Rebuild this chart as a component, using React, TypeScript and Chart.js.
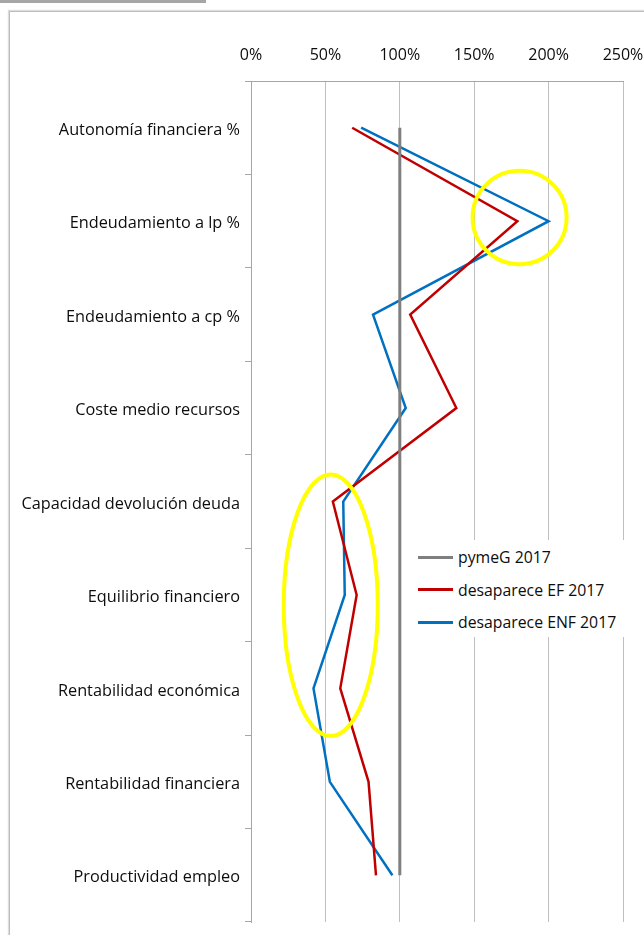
import React, { useEffect, useRef } from "react";
import { Chart, registerables } from "chart.js";

Chart.register(...registerables);

const categories = [
  "Autonomía financiera %",
  "Endeudamiento a lp %",
  "Endeudamiento a cp %",
  "Coste medio recursos",
  "Capacidad devolución deuda",
  "Equilibrio financiero",
  "Rentabilidad económica",
  "Rentabilidad financiera",
  "Productividad empleo",
];

const seriesNames = ["pymeG 2017", "desaparece EF 2017", "desaparece ENF 2017"];
const pymeG2017 = [100, 100, 100, 100, 100, 100, 100, 100, 100];
const desapareceEF2017 = [68, 179, 107, 138, 55, 71, 60, 79, 84];
const desapareceENF2017 = [74, 200, 82, 104, 62, 63, 42, 53, 95];

const xMin = 0;
const xMax = 250;
const xStep = 50;

const seriesColors = ["#7F7F7F", "#C00000", "#0070C0"];
const seriesWidths = [3, 2.5, 2.5];

// highlight ellipses in data units: x value (%), category index, radii
const highlights = [
  { x: 180.5, y: 0.96, rx: 31.6, ry: 0.5 },
  { x: 53.6, y: 5.11, rx: 31.6, ry: 1.4 },
];

const FONT = "'Open Sans', 'DejaVu Sans', sans-serif";
const TEXT = "#0d0d0d";

const highlightPlugin = {
  id: "highlightPlugin",
  afterDatasetsDraw(chart: any) {
    const xs = chart.scales.x;
    const ys = chart.scales.y;
    const ctx = chart.ctx;
    const y0 = ys.getPixelForValue(0);
    const step = ys.getPixelForValue(1) - y0;
    ctx.save();
    ctx.strokeStyle = "#FFFF00";
    ctx.lineWidth = 4;
    for (const h of highlights) {
      const cx = xs.getPixelForValue(h.x);
      const cy = y0 + h.y * step;
      const rx = xs.getPixelForValue(h.x + h.rx) - cx;
      const ry = h.ry * step;
      ctx.beginPath();
      ctx.ellipse(cx, cy, rx, ry, 0, 0, Math.PI * 2);
      ctx.stroke();
    }
    ctx.restore();
  },
};

export default function App() {
  const ref = useRef<HTMLCanvasElement>(null);

  useEffect(() => {
    if (!ref.current) return;
    const values = [pymeG2017, desapareceEF2017, desapareceENF2017];
    const chart = new Chart(ref.current, {
      type: "line",
      data: {
        labels: categories,
        datasets: values.map((v, i) => ({
          label: seriesNames[i],
          data: v,
          borderColor: seriesColors[i],
          backgroundColor: seriesColors[i],
          borderWidth: seriesWidths[i],
          pointRadius: 0,
          tension: 0,
          fill: false,
        })),
      },
      options: {
        responsive: false,
        animation: false,
        indexAxis: "y",
        layout: { padding: { top: 0, left: 0, right: 21, bottom: 13 } },
        plugins: {
          legend: { display: false },
          tooltip: { enabled: false },
        },
        scales: {
          x: {
            type: "linear",
            position: "top",
            min: xMin,
            max: xMax,
            ticks: {
              stepSize: xStep,
              callback: (v: any) => v + "%",
              padding: 16,
              color: TEXT,
              font: { family: FONT, size: 16 },
              maxRotation: 0,
            },
            grid: { color: "#BFBFBF", drawTicks: false, lineWidth: 1 },
            border: { display: true, color: "#A6A6A6" },
            afterFit: (s: any) => {
              s.height = 81;
              s.paddingLeft = 0;
              s.paddingRight = 0;
            },
          },
          y: {
            type: "category",
            offset: true,
            ticks: {
              padding: 5,
              labelOffset: 2.5,
              color: TEXT,
              font: { family: FONT, size: 16.3 },
            },
            grid: {
              offset: true,
              drawOnChartArea: false,
              drawTicks: true,
              tickLength: 6,
              color: "#A6A6A6",
            },
            border: { display: true, color: "#A6A6A6" },
            afterFit: (s: any) => {
              s.width = 251;
              s.paddingTop = 0;
              s.paddingBottom = 0;
            },
          },
        },
      } as any,
      plugins: [highlightPlugin],
    });
    return () => chart.destroy();
  }, []);

  return (
    <div
      style={{
        position: "absolute",
        left: 0,
        top: 0,
        width: 644,
        height: 935,
        overflow: "hidden",
        background: "#fff",
      }}
    >
      <div
        style={{
          position: "absolute",
          left: 0,
          top: 0,
          width: 206,
          height: 3,
          background: "#A6A6A6",
        }}
      />
      <div
        style={{
          position: "absolute",
          left: 9,
          top: 11,
          width: 700,
          height: 960,
          borderLeft: "1px solid #BDBDBD",
          borderTop: "1px solid #BDBDBD",
          boxShadow: "-1px -1px 1px #DDDDDD",
        }}
      />
      <canvas
        ref={ref}
        width={644}
        height={935}
        style={{ position: "absolute", left: 0, top: 0 }}
      />
      <div
        style={{
          position: "absolute",
          left: 415,
          top: 540,
          width: 215,
          height: 97,
          background: "#fff",
          fontFamily: FONT,
          fontSize: 15.8,
          color: TEXT,
        }}
      >
        {seriesNames.map((name, i) => (
          <div
            key={name}
            style={{
              position: "absolute",
              left: 0,
              top: 5 + i * 32.5,
              height: 24,
              display: "flex",
              alignItems: "center",
              whiteSpace: "nowrap",
            }}
          >
            <span
              style={{
                display: "inline-block",
                width: 35,
                height: 3,
                background: seriesColors[i],
                marginLeft: 3,
                marginRight: 5,
              }}
            />
            <span>{name}</span>
          </div>
        ))}
      </div>
    </div>
  );
}
